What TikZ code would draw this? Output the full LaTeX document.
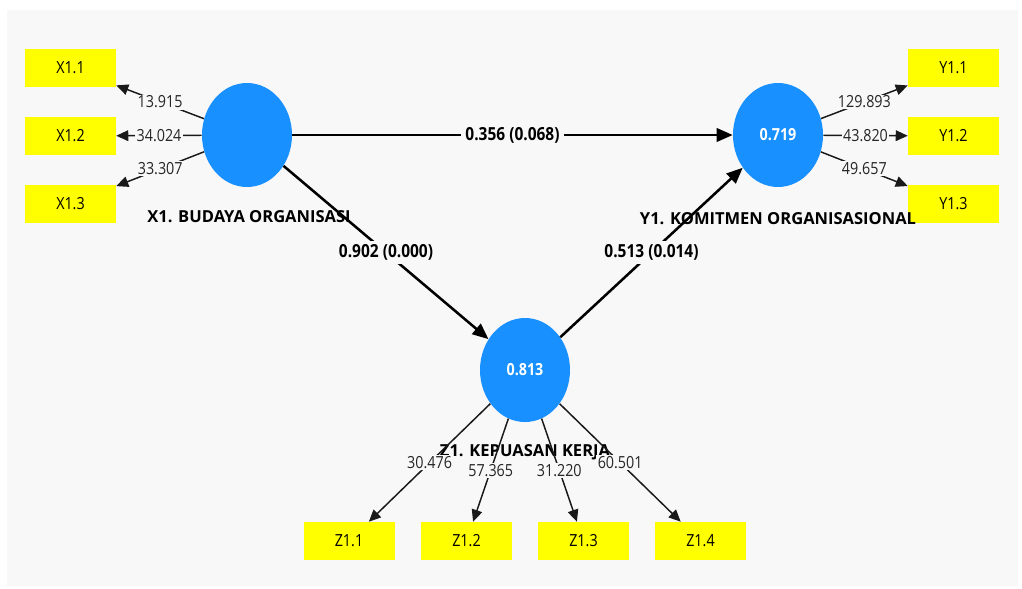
\documentclass[tikz,border=0pt]{standalone}
\usepackage{fontspec}
\setmainfont[FakeStretch=0.86]{Open Sans}
\newfontfamily\namefont{Open Sans}
\usetikzlibrary{arrows.meta,
                shapes.geometric,
                positioning}
\definecolor{plsblue}{RGB}{24,144,255}
\definecolor{plsyellow}{RGB}{255,255,0}
\definecolor{plsbg}{RGB}{248,248,248}

\begin{document}
\begin{tikzpicture}[
        x=0.75pt, y=-0.75pt,
        font=\fontsize{12.5}{14}\selectfont,
        latent/.style={
            ellipse,
            fill=plsblue,
            minimum width=67.5pt,
            minimum height=78pt,
            inner sep=0pt,
            text=white,
            font=\fontsize{12.5}{14}\selectfont\bfseries
        },
        indicator/.style={
            rectangle,
            fill=plsyellow,
            minimum width=68.25pt,
            minimum height=28.5pt,
            inner sep=0pt
        },
        loading/.style={-{Triangle[length=9pt,width=8pt]},line width=1.1pt,black!90},
        structural/.style={-{Triangle[length=12pt,width=10pt]},line width=1.9pt},
        value/.style={
            fill=plsbg,
            inner sep=1pt,
            text=black!85
        },
        coef/.style={
            fill=plsbg,
            inner sep=3pt,
            font=\fontsize{13.5}{15}\selectfont\bfseries
        },
        latent name/.style={font=\namefont\fontsize{12.4}{14}\selectfont\bfseries}
    ]

    % 背景
    \useasboundingbox (0,0) rectangle (1022,589);
    \fill[plsbg] (7,10) rectangle (1018,586);

    % 潜变量
    \node[latent] (X1) at (247,135) {};
    \node[latent] (Y1) at (778,135) {0.719};
    \node[latent] (Z1) at (525,370) {0.813};

    % 指标
    \foreach \i/\y in {1/68,2/136,3/204} {
        \node[indicator] (X1\i) at (70.5,\y) {X1.\i};
        \node[indicator] (Y1\i) at (953.5,\y) {Y1.\i};
    }
    \foreach \i/\x in {1/349,2/466.5,3/583.5,4/700.5} {
        \node[indicator] (Z1\i) at (\x,541) {Z1.\i};
    }

    % 潜变量名称
    \node[latent name] (X1name) at (249,217) {X1. BUDAYA ORGANISASI};
    \node[latent name] (Y1name) at (778,219) {Y1. KOMITMEN ORGANISASIONAL};
    \node[latent name] (Z1name) at (525,452) {Z1. KEPUASAN KERJA};

    % 外部载荷
    \foreach \i/\v in {1/13.915,2/34.024,3/33.307} {
        \draw[loading] (X1) -- node[value] {\v} (X1\i);
    }
    \foreach \i/\v in {1/129.893,2/43.820,3/49.657} {
        \draw[loading] (Y1) -- node[value] {\v} (Y1\i);
    }
    \foreach \i/\v in {1/30.476,2/57.365,3/31.220,4/60.501} {
        \draw[loading] (Z1) -- node[value] {\v} (Z1\i);
    }

    % 路径系数
    \draw[structural] (X1) -- node[coef] {0.356 (0.068)} (Y1);
    \draw[structural] (X1) -- node[coef] {0.902 (0.000)} (Z1);
    \draw[structural] (Z1) -- node[coef] {0.513 (0.014)} (Y1);

\end{tikzpicture}
\end{document}
